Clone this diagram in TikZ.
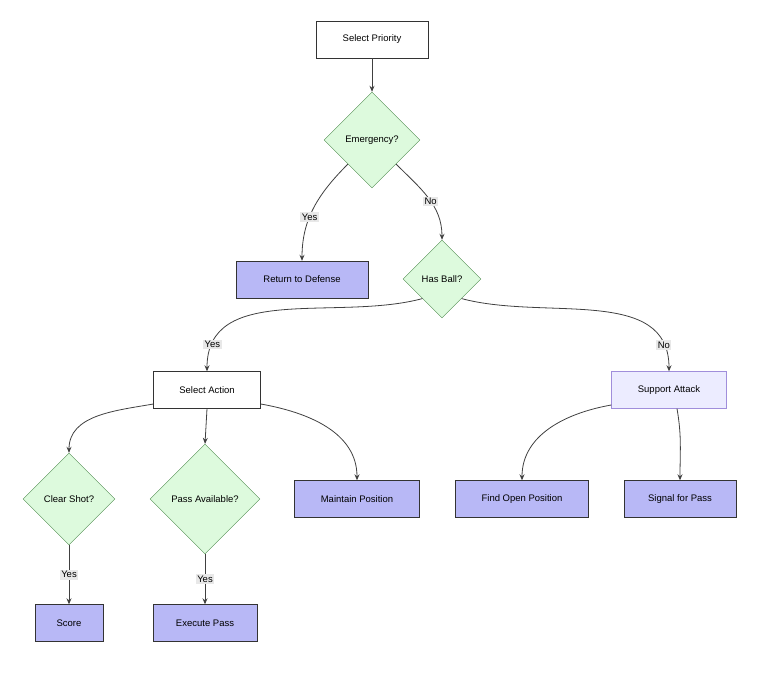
\documentclass[tikz,border=0pt]{standalone}
\usepackage{fontspec}
\setmainfont{Liberation Sans}
\usetikzlibrary{shapes.geometric,arrows.meta}
\definecolor{decfill}{HTML}{DDFADD}
\definecolor{decline}{HTML}{4E8A4E}
\definecolor{actfill}{HTML}{B8B8F6}
\definecolor{supfill}{HTML}{ECECFF}
\definecolor{supline}{HTML}{A08EDB}
\definecolor{lblfill}{HTML}{E8E8E8}
\tikzset{
  box/.style={draw=black!80, fill=white, minimum height=37pt, font=\fontsize{9.5}{11}\selectfont},
  act/.style={box, fill=actfill},
  dec/.style={draw=decline, fill=decfill, diamond, aspect=1, inner sep=0pt, font=\fontsize{9.5}{11}\selectfont},
  arr/.style={-{Stealth[length=6pt,width=5pt]}, draw=black!75, line width=0.8pt},
  lbl/.style={fill=lblfill, inner sep=1.5pt, font=\fontsize{9.5}{11}\selectfont}
}
\begin{document}
\begin{tikzpicture}[x=1pt,y=-1pt]
\useasboundingbox (0,0) rectangle (763,676);
% top
\node[box, minimum width=112pt] (prio) at (372,39.5) {Select Priority};
\node[dec, minimum size=96pt] (emerg) at (372,140) {Emergency?};
\node[act, minimum width=132pt] (ret) at (302,279.5) {Return to Defense};
\node[dec, minimum size=78pt] (ball) at (442,279) {Has Ball?};
% middle
\node[box, minimum width=107pt] (sel) at (207,390) {Select Action};
\node[box, fill=supfill, draw=supline, minimum width=115pt] (sup) at (669,390) {Support Attack};
% bottom
\node[dec, minimum size=92pt] (shot) at (69,499) {Clear Shot?};
\node[dec, minimum size=110pt] (pass) at (205,499) {Pass Available?};
\node[act, minimum width=125pt] (keep) at (357,499) {Maintain Position};
\node[act, minimum width=133pt] (open) at (522,499) {Find Open Position};
\node[act, minimum width=112pt] (sig) at (680,499) {Signal for Pass};
\node[act, minimum width=68pt] (score) at (69,623) {Score};
\node[act, minimum width=104pt] (exec) at (205,623) {Execute Pass};
% edges
\draw[arr] (prio) -- (emerg);
\draw[arr] (emerg.south west) to[out=-135,in=90] node[lbl, pos=0.6] {Yes} (ret.north);
\draw[arr] (emerg.south east) to[out=-45,in=90] node[lbl, pos=0.55] {No} (ball.north);
\draw[arr] (ball.south west) to[out=195,in=90] node[lbl, pos=0.88] {Yes} (sel.north);
\draw[arr] (ball.south east) to[out=-15,in=90] node[lbl, pos=0.88] {No} (sup.north);
\draw[arr] (sel.west) ++(0,14) to[out=190,in=90] (shot.north);
\draw[arr] (sel.south) -- (pass.north);
\draw[arr] (sel.east) ++(0,14) to[out=-10,in=90] (keep.north);
\draw[arr] (sup.west) ++(0,15) to[out=190,in=90] (open.north);
\draw[arr] (sup.south) ++(8,0) to[out=-80,in=90] (sig.north);
\draw[arr] (shot.south) -- node[lbl] {Yes} (score.north);
\draw[arr] (pass.south) -- node[lbl] {Yes} (exec.north);
\end{tikzpicture}
\end{document}
